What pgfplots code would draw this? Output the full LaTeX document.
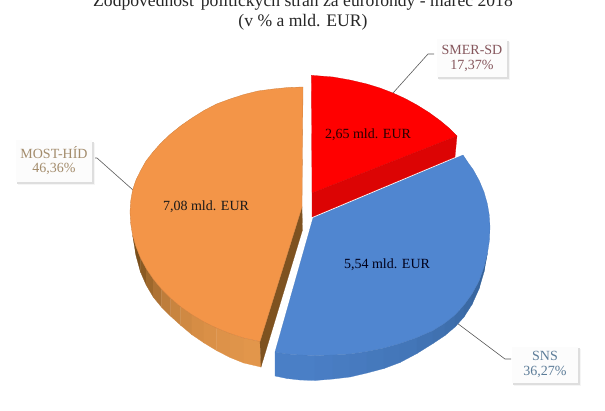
\documentclass[border=0pt]{standalone}
\usepackage{pgfplots}
\pgfplotsset{compat=1.18}
\usepackage{fontspec}
\setmainfont{Liberation Serif}
\definecolor{ored}{HTML}{FF0000}
\definecolor{orside}{HTML}{DC0404}
\definecolor{otop}{HTML}{F39548}
\definecolor{otside}{HTML}{7E5220}
\definecolor{btop}{HTML}{5086D0}
\definecolor{tmost}{HTML}{A38C6C}
\definecolor{tsmer}{HTML}{85565C}
\definecolor{tsns}{HTML}{5C7C98}
\definecolor{oa}{HTML}{7A4F1C}
\definecolor{oi}{HTML}{E2964B}
\definecolor{ba}{HTML}{4A7FC6}
\definecolor{bj}{HTML}{336096}
\newcommand{\strip}[9]{\addplot[fill=#9,draw=#9,line width=0.25pt] coordinates {(#1,#2)(#3,#4)(#5,#6)(#7,#8)} -- cycle;}
\begin{document}
\begin{tikzpicture}
\useasboundingbox (0,0) rectangle (605pt,410pt);
\begin{axis}[at={(0,0)},anchor=south west,width=605pt,height=410pt,scale only axis,
  xmin=0,xmax=605,ymin=0,ymax=410,y dir=reverse,hide axis,clip=false]
% leader lines
\addplot[color=black!65,line width=0.6pt] coordinates {(393,93)(428,54)(434,54)};
\addplot[color=black!65,line width=0.6pt] coordinates {(133,190)(97,158)(92,158)};
\addplot[color=black!65,line width=0.6pt] coordinates {(457,323)(505,359)(511,359)};
% label boxes
\addplot[fill=black!4,draw=none] coordinates {(439,42)(510,42)(510,80)(439,80)} -- cycle;
\addplot[fill=black!13,draw=none] coordinates {(438,41)(508.5,41)(508.5,78.5)(438,78.5)} -- cycle;
\addplot[fill=black!1,draw=none] coordinates {(437,39)(507,39)(507,77)(437,77)} -- cycle;
\addplot[fill=black!4,draw=none] coordinates {(18,143)(95,143)(95,185)(18,185)} -- cycle;
\addplot[fill=black!13,draw=none] coordinates {(17,142)(93.5,142)(93.5,183.5)(17,183.5)} -- cycle;
\addplot[fill=black!1,draw=none] coordinates {(16,140)(92,140)(92,182)(16,182)} -- cycle;
\addplot[fill=black!4,draw=none] coordinates {(514,349)(581,349)(581,386)(514,386)} -- cycle;
\addplot[fill=black!13,draw=none] coordinates {(513,348)(579.5,348)(579.5,384.5)(513,384.5)} -- cycle;
\addplot[fill=black!1,draw=none] coordinates {(512,347)(578,347)(578,383)(512,383)} -- cycle;
% orange wall strips
\strip{132.6}{235.3}{136}{246.7}{136}{255.7}{132.6}{235.3}{oa}
\strip{136}{246.7}{140.4}{257.8}{140.4}{271.8}{136}{255.7}{oa}
\strip{140.4}{257.8}{146.2}{268.6}{146.2}{285.1}{140.4}{271.8}{oi!15!oa}
\strip{146.2}{268.6}{153.2}{279}{153.2}{297}{146.2}{285.1}{oi!35!oa}
\strip{153.2}{279}{161.3}{288.9}{161.3}{306.9}{153.2}{297}{oi!50!oa}
\strip{161.3}{288.9}{170.5}{298.1}{170.5}{316.1}{161.3}{306.9}{oi!65!oa}
\strip{170.5}{298.1}{180.7}{306.8}{180.7}{325.3}{170.5}{316.1}{oi!75!oa}
\strip{180.7}{306.8}{191.8}{314.6}{191.8}{334.6}{180.7}{325.3}{oi!82!oa}
\strip{191.8}{314.6}{203.8}{321.8}{203.8}{342.8}{191.8}{334.6}{oi!88!oa}
\strip{203.8}{321.8}{216.5}{328}{216.5}{350.5}{203.8}{342.8}{oi!92!oa}
\strip{216.5}{328}{229.9}{333.4}{229.9}{357.4}{216.5}{350.5}{oi!95!oa}
\strip{229.9}{333.4}{243.8}{338}{243.8}{363}{229.9}{357.4}{oi!97!oa}
\strip{243.8}{338}{260}{341.5}{261}{367}{243.8}{363}{oi}
% orange cut side
\addplot[fill=otside,draw=otside,line width=0.2pt] coordinates {(302,207)(302.5,230)(261,367)(260,341.5)} -- cycle;
% orange top
\addplot[fill=otop,draw=otop!85!black,line width=0.3pt] coordinates {
(303,87)(288,87.5)(273,89)(258,91)(244,94.5)(230,99)(216.5,104)(204,110.5)(192,118)(181,125.6)(170.5,134)(161,143)(153,152)(146,161)(140.4,171)(136,180)(132.6,190)(130.7,201)(130,212)
(130.7,223.7)(132.6,235.3)(136,246.7)(140.4,257.8)(146.2,268.6)(153.2,279)(161.3,288.9)(170.5,298.1)(180.7,306.8)(191.8,314.6)(203.8,321.8)(216.5,328)(229.9,333.4)(243.8,338)(260,341.5)(302,207)} -- cycle;
% blue wall strips
\strip{275}{352}{287}{354}{287}{378.5}{275}{376}{ba}
\strip{287}{354}{300}{355}{300}{380}{287}{378.5}{ba}
\strip{300}{355}{315}{355.5}{315}{380.5}{300}{380}{ba}
\strip{315}{355.5}{333}{355}{333}{379}{315}{380.5}{bj!5!ba}
\strip{333}{355}{350}{354}{350}{377}{333}{379}{bj!10!ba}
\strip{350}{354}{367}{351.5}{367}{373}{350}{377}{bj!15!ba}
\strip{367}{351.5}{384}{348}{384}{368.5}{367}{373}{bj!20!ba}
\strip{384}{348}{400}{343.5}{400}{362.5}{384}{368.5}{bj!25!ba}
\strip{400}{343.5}{417}{337.5}{417}{353.5}{400}{362.5}{bj!30!ba}
\strip{417}{337.5}{433}{330.5}{433}{343.5}{417}{353.5}{bj!38!ba}
\strip{433}{330.5}{445}{323}{445}{335.5}{433}{343.5}{bj!45!ba}
\strip{445}{323}{455}{315}{455}{327}{445}{335.5}{bj!52!ba}
\strip{455}{315}{464}{305}{464}{317}{455}{327}{bj!60!ba}
\strip{464}{305}{472}{294}{472}{304.5}{464}{317}{bj!70!ba}
\strip{472}{294}{479}{281}{479}{289}{472}{304.5}{bj!80!ba}
\strip{479}{281}{484}{267}{484}{272}{479}{289}{bj!90!ba}
\strip{484}{267}{487.5}{253}{487.5}{253}{484}{272}{bj}
% red side
\addplot[fill=orside,draw=orside,line width=0.2pt] coordinates {(312,193)(457,136)(455,157)(312,217)} -- cycle;
% red top
\addplot[fill=ored,draw=ored!80!black,line width=0.2pt] coordinates {
(311.3,75.3)(333,77)(350,80)(367,84)(380,88)(393,93)(405,98.5)(417,105)(429,112.5)(440,120.5)(449,128)(457,136)(312,193)} -- cycle;
% blue top
\addplot[fill=btop,draw=btop!90!black,line width=0.2pt] coordinates {
(313,218)(463,155)(468,162.5)(473.4,170)(479.3,180.8)(484,192)(487.3,203.6)(489.3,215.2)(490,227)(489.5,240)(487.5,253)(484,267)(479,281)(472,294)(464,305)(455,315)(445,323)(433,330.5)(417,337.5)(400,343.5)(384,348)(367,351.5)(350,354)(333,355)(315,355.5)(300,355)(287,354)(275,352)} -- cycle;
% title
\node[font=\fontsize{17.6}{20}\selectfont,text=black!85] at (axis cs:303,2) {Zodpovednosť politických strán za eurofondy - marec 2018};
\node[font=\fontsize{17.6}{20}\selectfont,text=black!85] at (axis cs:303,22) {(v \% a mld. EUR)};
% slice labels
\node[font=\fontsize{14}{16}\selectfont,text=black!85!red] at (axis cs:368,135) {2,65 mld. EUR};
\node[font=\fontsize{14}{16}\selectfont,text=black!90] at (axis cs:206,207) {7,08 mld. EUR};
\node[font=\fontsize{14}{16}\selectfont,text=black!90!blue] at (axis cs:387,265) {5,54 mld. EUR};
\node[font=\fontsize{14}{16}\selectfont,text=tsmer] at (axis cs:472,50) {SMER-SD};
\node[font=\fontsize{14}{16}\selectfont,text=tsmer] at (axis cs:472,66) {17,37\%};
\node[font=\fontsize{14}{16}\selectfont,text=tmost] at (axis cs:54,153) {MOST-HÍD};
\node[font=\fontsize{14}{16}\selectfont,text=tmost] at (axis cs:54,169) {46,36\%};
\node[font=\fontsize{14}{16}\selectfont,text=tsns] at (axis cs:545,356) {SNS};
\node[font=\fontsize{14}{16}\selectfont,text=tsns] at (axis cs:545,372) {36,27\%};
\end{axis}
\end{tikzpicture}
\end{document}
